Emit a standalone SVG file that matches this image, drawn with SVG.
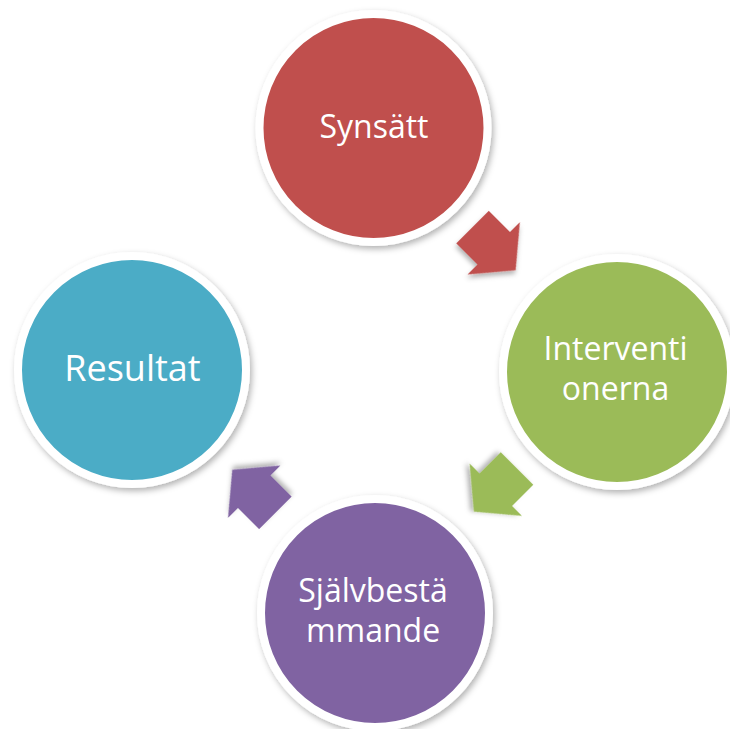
<svg xmlns="http://www.w3.org/2000/svg" width="730" height="729" viewBox="0 0 730 729">
  <defs>
    <filter id="sh" x="-20%" y="-20%" width="140%" height="140%">
      <feDropShadow dx="2" dy="3" stdDeviation="3" flood-color="#000" flood-opacity="0.3"/>
    </filter>
    <filter id="ash" x="-30%" y="-30%" width="160%" height="160%">
      <feDropShadow dx="2" dy="3" stdDeviation="2.5" flood-color="#000" flood-opacity="0.3"/>
    </filter>
    <path id="arrow" d="M-30,-23 L0,-23 L0,-37 L31,0 L0,37 L0,23 L-30,23 Z"/>
  </defs>
  <style>
    .ring { stroke: #ffffff; stroke-width: 8; filter: url(#sh); }
    .lbl { font-family: "Open Sans", "Liberation Sans", sans-serif; fill: #ffffff; text-anchor: middle; }
  </style>
  <rect width="730" height="729" fill="#ffffff"/>
  <g id="connectors">
    <use href="#arrow" fill="#C0504D" filter="url(#ash)" transform="translate(493.7,248.3) rotate(45)"/>
    <use href="#arrow" fill="#9BBB59" filter="url(#ash)" transform="translate(495.8,489.7) rotate(135)"/>
    <use href="#arrow" fill="#8064A2" filter="url(#ash)" transform="translate(254.2,491.7) rotate(225)"/>
  </g>
  <g id="synsatt">
    <circle class="ring" cx="373.5" cy="128" r="114" fill="#C0504D"/>
    <text class="lbl" x="374" y="138" font-size="32">Synsätt</text>
  </g>
  <g id="interventionerna">
    <circle class="ring" cx="617" cy="372" r="114" fill="#9BBB59"/>
    <text class="lbl" x="615.5" y="360" font-size="32">Interventi</text>
    <text class="lbl" x="615.5" y="400" font-size="32">onerna</text>
  </g>
  <g id="sjalvbestammande">
    <circle class="ring" cx="375" cy="613" r="114" fill="#8064A2"/>
    <text class="lbl" x="373" y="602" font-size="32">Självbestä</text>
    <text class="lbl" x="373" y="642" font-size="32">mmande</text>
  </g>
  <g id="resultat">
    <circle class="ring" cx="132" cy="370" r="114" fill="#4BACC6"/>
    <text class="lbl" x="132.5" y="381" font-size="36">Resultat</text>
  </g>
</svg>
